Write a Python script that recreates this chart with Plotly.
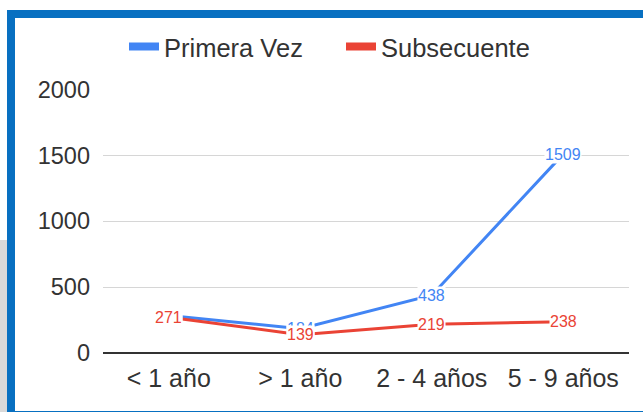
import plotly.graph_objects as go

categories = ["< 1 año", "> 1 año", "2 - 4 años", "5 - 9 años"]
primera_vez = [285, 184, 438, 1509]
subsecuente = [271, 139, 219, 238]
y_ticks = [0, 500, 1000, 1500, 2000]

BLUE = "#4285F4"
RED = "#EA4335"
FONT = "Liberation Sans, Arial, sans-serif"

W, H = 643, 412
L, R, T, B = 103, 14, 89, 59
pw, ph = W - L - R, H - T - B


def px_x(x):
    return (x - L) / pw


def px_y(y):
    return (H - B - y) / ph


fig = go.Figure()

fig.add_trace(go.Scatter(x=categories, y=primera_vez, mode="lines", name="Primera Vez",
                         line=dict(color=BLUE, width=3), showlegend=False, hoverinfo="skip"))
fig.add_trace(go.Scatter(x=categories, y=subsecuente, mode="lines", name="Subsecuente",
                         line=dict(color=RED, width=3), showlegend=False, hoverinfo="skip"))
# legend entries
fig.add_trace(go.Scatter(x=[None], y=[None], mode="lines", name="Primera Vez",
                         line=dict(color=BLUE, width=8)))
fig.add_trace(go.Scatter(x=[None], y=[None], mode="lines", name="Subsecuente",
                         line=dict(color=RED, width=8)))

annotations = []
for series, color in ((primera_vez, BLUE), (subsecuente, RED)):
    for c, v in zip(categories, series):
        annotations.append(dict(x=c, y=v, xref="x", yref="y", text=str(v), showarrow=False,
                                font=dict(family=FONT, size=16, color=color),
                                bgcolor="white", borderpad=0))

shapes = [
    dict(type="rect", xref="paper", yref="paper",
         x0=px_x(-2), x1=px_x(7), y0=px_y(415), y1=px_y(240),
         fillcolor="#d9d9d9", line=dict(width=0), layer="below"),
    dict(type="rect", xref="paper", yref="paper",
         x0=px_x(11), x1=px_x(680), y0=px_y(415), y1=px_y(14),
         line=dict(color="#0870C1", width=8), fillcolor="rgba(0,0,0,0)"),
]

fig.update_layout(
    width=W, height=H,
    margin=dict(l=L, r=R, t=T, b=B, autoexpand=False),
    paper_bgcolor="white", plot_bgcolor="white",
    font=dict(family=FONT, size=24, color="#333333"),
    showlegend=True,
    legend=dict(orientation="h", x=px_x(124), y=px_y(47), xanchor="left", yanchor="middle",
                font=dict(size=25.5, color="#333333"), itemwidth=30, tracegroupgap=0,
                entrywidth=172, entrywidthmode="pixels",
                bgcolor="rgba(0,0,0,0)"),
    xaxis=dict(range=[-0.5, 3.5], showgrid=False, showline=False, ticks="", zeroline=False,
               ticklabelstandoff=8, tickfont=dict(size=25, color="#333333")),
    yaxis=dict(range=[0, 2003], tickvals=y_ticks, showgrid=True, gridcolor="#d6d6d6",
               gridwidth=1, zeroline=True, zerolinecolor="#333333", zerolinewidth=1.5,
               showline=False, ticks="", ticklabelstandoff=12,
               tickfont=dict(size=23.5, color="#333333")),
    annotations=annotations,
    shapes=shapes,
)

fig.write_html("out.html", config={"displayModeBar": False},
               post_script="document.body.style.margin='0';document.body.style.overflow='hidden';")
